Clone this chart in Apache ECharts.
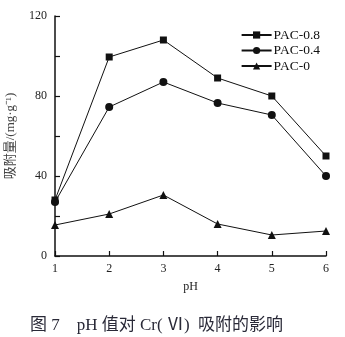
<!DOCTYPE html>
<html>
<head>
<meta charset="utf-8">
<script src="https://cdn.jsdelivr.net/npm/echarts@6/dist/echarts.min.js"></script>
<style>
  html, body { margin: 0; padding: 0; background: #fff; }
  #chart { width: 345px; height: 337px; }
</style>
</head>
<body>
<div id="chart"></div>
<script>
// pH values on the x axis
const phValues = [1, 2, 3, 4, 5, 6];
// adsorption capacity (mg/g) for each adsorbent
const pac08 = [28, 99.5, 108, 89, 80, 50];
const pac04 = [27, 74.5, 87, 76.5, 70.5, 40];
const pac0 = [15.5, 21, 30.5, 16, 10.5, 12.5];
const seriesNames = ['PAC-0.8', 'PAC-0.4', 'PAC-0'];
const yLabels = [0, 40, 80, 120];

const serif = '"Liberation Serif", "DejaVu Serif", serif';
const cjk = '"Liberation Serif", "Noto Sans CJK SC", serif';

const chart = echarts.init(document.getElementById('chart'), null, { renderer: 'canvas' });

function lineSeries(name, values, symbol, size) {
  return {
    name: name,
    type: 'line',
    data: values.map((v, i) => [phValues[i], v]),
    symbol: symbol,
    symbolSize: size,
    showSymbol: true,
    lineStyle: { color: '#111', width: 1 },
    itemStyle: { color: '#111' },
    emphasis: { disabled: true },
    animation: false
  };
}

chart.setOption({
  animation: false,
  backgroundColor: '#fff',
  grid: { left: 55, right: 19, top: 16, bottom: 81, containLabel: false, outerBoundsMode: 'none' },
  legend: {
    orient: 'vertical',
    right: 20,
    top: 23,
    itemWidth: 30,
    itemHeight: 9,
    itemGap: 1.5,
    data: seriesNames,
    textStyle: { fontFamily: serif, fontSize: 13.5, lineHeight: 10, color: '#111', padding: [0, 0, 0, -3] }
  },
  xAxis: {
    type: 'value',
    min: 1, max: 6, interval: 1,
    name: 'pH',
    nameLocation: 'middle',
    nameGap: 25,
    nameTextStyle: { fontFamily: serif, fontSize: 12, color: '#222' },
    axisLine: { lineStyle: { color: '#111', width: 1.5 } },
    axisTick: { inside: true, length: 5, lineStyle: { color: '#111', width: 1.2 } },
    axisLabel: { fontFamily: serif, fontSize: 12, color: '#222', margin: 7 },
    splitLine: { show: false }
  },
  yAxis: {
    type: 'value',
    min: 0, max: 120, interval: 20,
    name: '吸附量/(mg·g⁻¹)',
    nameLocation: 'middle',
    nameGap: 38,
    nameRotate: 90,
    nameTextStyle: { fontFamily: cjk, fontSize: 13, color: '#444' },
    axisLine: { show: true, lineStyle: { color: '#111', width: 1.5 } },
    axisTick: { inside: true, length: 5, lineStyle: { color: '#111', width: 1.2 } },
    axisLabel: {
      fontFamily: serif, fontSize: 12, color: '#222', margin: 8,
      formatter: v => (yLabels.indexOf(v) >= 0 ? String(v) : '')
    },
    splitLine: { show: false }
  },
  title: {
    text: '图 7    pH 值对 Cr( Ⅵ)  吸附的影响',
    left: 25,
    top: 312,
    textStyle: { fontFamily: cjk, fontSize: 17, fontWeight: 'normal', color: '#2a2a38' }
  },
  series: [
    lineSeries(seriesNames[0], pac08, 'rect', 7),
    lineSeries(seriesNames[1], pac04, 'circle', 8),
    lineSeries(seriesNames[2], pac0, 'triangle', 8)
  ]
});
</script>
</body>
</html>
